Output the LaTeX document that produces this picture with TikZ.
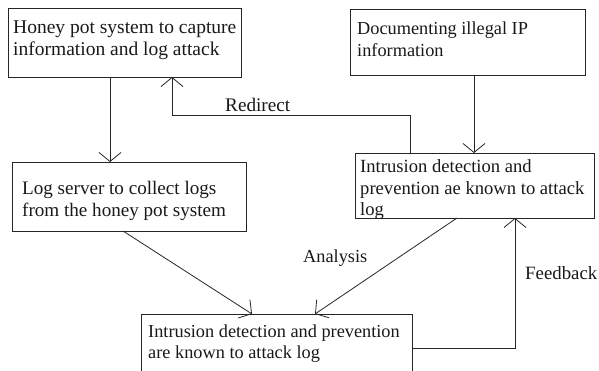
\documentclass[tikz,border=0pt]{standalone}
\usepackage{fontspec}
\setmainfont{Liberation Serif}
\usetikzlibrary{arrows.meta,calc}
\tikzset{
 box/.style={draw=black!85, line width=0.8pt, inner sep=0pt, outer sep=0pt, anchor=north west},
 txt/.style={anchor=base west, inner sep=0pt, font=\fontsize{#1}{21.5}\selectfont, text=black!90},
 txt/.default=18.8,
 conn/.style={draw=black!85, line width=0.8pt},
 arr/.style={conn, -{Straight Barb[length=9pt,width=22pt,line width=0.8pt]}},
}
\newcommand{\mlines}[1]{\begin{tabular}[t]{@{}l@{}}#1\end{tabular}}
\begin{document}
\begin{tikzpicture}[x=1pt,y=-1pt]
\useasboundingbox (0,0) rectangle (599,371);
\clip (0,0) rectangle (599,371);
\fill[white] (0,0) rectangle (599,371);
% boxes
\node[box, minimum width=233pt, minimum height=69pt] (A) at (8,8) {};
\node[box, minimum width=235pt, minimum height=66pt] (B) at (350,9) {};
\node[box, minimum width=239pt, minimum height=65pt] (C) at (355,153) {};
\node[box, minimum width=234pt, minimum height=69pt] (D) at (12,162) {};
\node[box, minimum width=271pt, minimum height=70pt] (E) at (141,314) {};
% texts
\node[txt=19.5] (At) at (13,34) {\mlines{Honey pot system to capture\\information and log attack}};
\node[txt=18.3] (Bt) at (357,35) {\mlines{Documenting illegal IP\\information}};
\node[txt=18.6] (Ct) at (360,173) {\mlines{Intrusion detection and\\prevention ae known to attack\\log}};
\node[txt=19.1] (Dt) at (22,195) {\mlines{Log server to collect logs\\from the honey pot system}};
\node[txt=18.3] (Et) at (148,337) {\mlines{Intrusion detection and prevention\\are known to attack log}};
% labels
\node[txt=19.2] (lr) at (225,112) {Redirect};
\node[txt=18.3] (la) at (303,262) {Analysis};
\node[txt=18.8] (lf) at (525,279) {Feedback};
% connectors
\coordinate (r1) at (410,115);
\coordinate (r2) at (172,115);
\coordinate (f1) at (515,348);
\draw[arr] ($(A.south west)+(102,0)$) -- ($(D.north west)+(98,0)$);
\draw[arr] ($(C.north west)+(55,0)$) -- (r1) -- (r2) -- ($(A.south west)+(164,0)$);
\draw[arr] ($(B.south west)+(124,0)$) -- ($(C.north west)+(119,0)$);
\draw[arr] ($(D.south west)+(111,0)$) -- ($(E.north west)+(111,0)$);
\draw[arr] ($(C.south west)+(102,0)$) -- ($(E.north west)+(174,0)$);
\draw[arr] ($(E.north east)+(0,34)$) -- (f1) -- ($(C.south west)+(160,0)$);
\end{tikzpicture}
\end{document}
